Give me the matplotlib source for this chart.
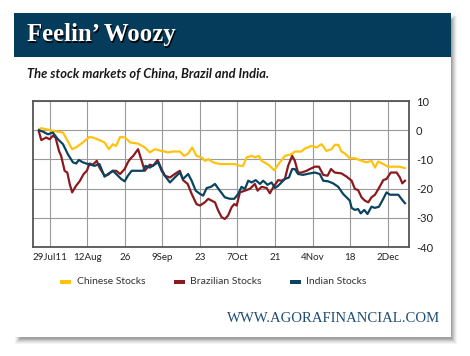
import numpy as np
import matplotlib
matplotlib.use("Agg")
import matplotlib.pyplot as plt
from matplotlib.patches import Rectangle

# day offsets from 29 Jul 2011, values in %
cn_day = [-4.1, -3.2, 1.1, 4.9, 8.3, 9.8, 12.3, 14.8, 16.0, 18.5, 20.4, 22.0, 23.5, 24.7, 26.2, 27.9,
          29.1, 29.9, 32.9, 35.4, 37.3, 39.2, 41.7, 44.1, 46.0, 48.5, 50.1, 51.6, 53.1, 54.7, 56.6,
          57.8, 59.1, 60.9, 63.4, 69.0, 70.9, 72.1, 73.4, 75.3, 76.5, 78.0, 79.0, 81.5, 83.7, 85.8,
          87.7, 90.2, 91.4, 93.9, 95.1, 97.6, 99.5, 101.4, 103.2, 105.1, 106.3, 107.6, 108.8, 110.1,
          111.9, 113.8, 116.3, 118.2, 120.0, 121.3, 122.5, 124.4, 126.2, 130.6, 132.5]
cn_val = [0.3, 0.7, -0.2, -0.8, -6.5, -5.9, -4.2, -2.3, -2.5, -3.4, -4.2, -6.5, -4.8, -5.4, -2.3, -2.5,
          -3.4, -4.2, -4.6, -5.9, -7.6, -6.5, -7.1, -7.6, -7.3, -7.3, -8.8, -8.0, -5.9, -8.8, -9.3,
          -10.5, -9.9, -11.0, -11.6, -11.6, -12.2, -12.2, -9.3, -8.8, -9.3, -8.8, -10.5, -11.8, -13.7, -11.0,
          -8.8, -8.2, -7.3, -7.3, -6.3, -5.4, -5.9, -4.8, -7.1, -6.5, -5.0, -5.0, -7.3, -8.0,
          -9.6, -9.6, -10.5, -11.0, -10.5, -12.8, -10.7, -11.6, -12.5, -12.5, -13.0]

br_day = [-4.1, -3.2, -1.4, -0.1, 1.1, 2.1, 3.4, 4.2, 5.5, 6.5, 7.4, 8.3, 9.8, 11.1, 12.6, 13.8, 14.8,
          16.0, 17.5, 18.5, 20.4, 21.6, 23.5, 24.7, 26.2, 27.9, 29.1, 29.9, 31.1, 32.9, 35.4, 37.3,
          38.5, 40.2, 41.4, 42.9, 44.8, 46.6, 48.5, 49.7, 51.4, 52.9, 54.7, 56.0, 57.8, 59.1, 60.3,
          61.6, 62.8, 64.1, 65.3, 66.5, 67.8, 68.8, 69.7, 70.9, 72.8, 74.6, 76.5, 77.5, 79.0, 80.9,
          82.1, 83.3, 85.2, 86.4, 87.7, 88.9, 90.4, 91.4, 92.6, 93.9, 95.8, 97.0, 98.9, 100.4, 102.0,
          103.6, 104.9, 106.3, 108.8, 110.7, 112.6, 113.8, 115.0, 116.3, 117.5, 118.8, 120.0, 121.3,
          122.8, 124.4, 125.6, 127.2, 129.4, 130.6, 131.5, 132.5]
br_val = [-0.5, -3.4, -2.5, -3.1, -1.9, -2.5, -7.1, -8.8, -13.9, -14.5, -18.4, -21.3, -19.0, -17.5, -15.0, -13.9, -11.4,
          -11.8, -10.5, -12.8, -15.6, -15.3, -13.9, -13.9, -15.0, -13.3, -11.0, -9.9, -8.8, -6.5, -13.9, -11.8,
          -12.2, -10.2, -12.8, -15.6, -16.2, -15.0, -13.9, -17.1, -18.4, -21.8, -25.3, -25.8, -24.7, -23.5, -24.1,
          -24.7, -27.5, -29.8, -30.4, -29.2, -26.4, -25.3, -25.8, -21.3, -20.7, -20.1, -18.4, -20.7, -19.4, -19.8,
          -21.6, -19.6, -17.1, -17.3, -16.7, -12.2, -8.8, -10.5, -14.5, -14.5, -13.9, -13.3, -12.5, -12.5, -15.3,
          -15.6, -13.3, -14.5, -14.8, -15.9, -17.3, -20.1, -20.5, -23.0, -24.1, -24.7, -23.0, -22.1,
          -19.8, -17.1, -16.7, -14.5, -14.5, -16.2, -18.2, -17.3]

in_day = [-4.1, -2.6, -0.7, 1.1, 3.0, 4.9, 6.7, 8.6, 9.8, 10.8, 12.3, 14.2, 16.7, 18.5, 20.4, 22.0, 23.5,
          25.4, 26.6, 27.9, 29.1, 30.5, 32.9, 34.8, 35.7, 37.3, 40.4, 41.7, 42.9, 44.8, 46.6, 48.5,
          49.7, 51.6, 52.9, 54.4, 56.0, 57.2, 58.5, 60.1, 61.6, 63.4, 65.3, 67.2, 68.8, 70.3, 71.5,
          72.8, 74.0, 75.3, 76.8, 78.4, 79.6, 81.2, 82.7, 84.0, 85.2, 86.4, 87.7, 89.2, 90.4, 91.4,
          92.6, 94.5, 97.0, 98.9, 100.7, 102.0, 103.8, 105.7, 107.6, 109.4, 110.7, 111.9, 112.6, 113.8,
          115.0, 116.0, 117.3, 118.5, 120.0, 121.3, 122.8, 124.4, 125.6, 126.9, 130.0, 131.5, 132.5]
in_val = [0.0, -0.5, -1.4, -0.8, -3.1, -4.8, -8.2, -11.0, -11.4, -10.2, -11.0, -11.6, -12.2, -11.6, -15.9, -14.8, -13.9,
          -15.6, -16.7, -17.5, -15.6, -13.9, -13.9, -13.9, -12.2, -12.8, -11.0, -13.9, -15.6, -17.9, -16.2, -14.5,
          -16.7, -15.0, -17.3, -20.7, -21.8, -22.4, -19.8, -19.4, -18.4, -20.7, -23.0, -23.5, -23.5, -21.8, -19.4,
          -20.1, -17.3, -17.9, -17.1, -18.4, -17.3, -18.7, -17.9, -19.8, -19.0, -17.9, -16.7, -16.2, -13.3, -13.3,
          -15.0, -15.3, -14.8, -14.5, -15.0, -17.3, -17.5, -18.2, -19.4, -21.8, -23.0, -24.1, -26.6, -27.3,
          -27.0, -28.5, -27.3, -28.7, -26.2, -26.6, -26.2, -23.5, -21.3, -22.1, -22.1, -23.9, -25.0]

tick_days = [0, 14, 28, 42, 56, 70, 84, 98, 112, 126]
tick_labels = ["29Jul11", "12Aug", "26", "9Sep", "23", "7Oct", "21", "4Nov", "18", "2Dec"]
y_ticks = [10, 0, -10, -20, -30, -40]

names = ["Chinese Stocks", "Brazilian Stocks", "Indian Stocks"]
colors = ["#FFC20E", "#8B1A1F", "#0B4461"]

W, H = 470, 356
fig = plt.figure(figsize=(W / 100, H / 100), dpi=100)
fig.patch.set_facecolor("white")


def px(x0, y0, x1, y1):
    # pixel box -> figure rect (left, bottom, width, height)
    return x0 / W, 1 - y1 / H, (x1 - x0) / W, (y1 - y0) / H


# drop shadow of the card
for i, a in enumerate([0.05, 0.06, 0.08, 0.10, 0.12, 0.14]):
    d = 7 - i
    l, b, w, h = px(14 + 7 - d + 1, 13 + 7 - d + 2, 451 + d - 1, 337 + d)
    fig.patches.append(Rectangle((l, b), w, h, transform=fig.transFigure,
                                 facecolor="#303030", alpha=a, edgecolor="none", zorder=0))
l, b, w, h = px(14, 13, 451, 337)
fig.patches.append(Rectangle((l, b), w, h, transform=fig.transFigure,
                             facecolor="white", edgecolor="none", zorder=1))
l, b, w, h = px(14, 13, 451, 57)
fig.patches.append(Rectangle((l, b), w, h, transform=fig.transFigure,
                             facecolor="#063C5B", edgecolor="none", zorder=2))

title = "Feelin\u2019 Woozy"
fig.text(28.2 / W, 1 - 36.2 / H, title, color="black", fontsize=17.8, fontweight="bold",
         family="Liberation Serif", va="center", zorder=3)
fig.text(27 / W, 1 - 35 / H, title, color="white", fontsize=17.8, fontweight="bold",
         family="Liberation Serif", va="center", zorder=4)
fig.text(27 / W, 1 - 74 / H, "The stock markets of China, Brazil and India.", color="#1a1a1a",
         fontsize=9.3, fontweight="bold", style="italic", family="Lato", va="center", zorder=4)

ax = fig.add_axes(px(33, 101, 409, 247), zorder=5)
for d, v, c in zip([cn_day, br_day, in_day], [cn_val, br_val, in_val], colors):
    ax.plot(d, v, color=c, lw=1.6, solid_joinstyle="round", zorder=3)

ax.set_xlim(-6.3, 134)
ax.set_ylim(-40, 10)
ax.set_xticks(tick_days)
ax.set_xticklabels(tick_labels, family="Lato", fontsize=7, color="#222222")
ax.set_yticks(y_ticks)
ax.set_yticklabels([str(t) for t in y_ticks], family="Lato", fontsize=8, color="#222222")
ax.yaxis.tick_right()
ax.tick_params(length=0, pad=5)
ax.tick_params(axis="x", pad=4)
ax.grid(True, color="#9a9a9a", lw=0.8)
ax.set_axisbelow(True)
for s in ax.spines.values():
    s.set_color("#555555")
    s.set_linewidth(1.3)

# legend
leg_x = [(60, 77), (174, 190), (290, 306)]
for (bx, tx), name, c in zip(leg_x, names, colors):
    l, b, w, h = px(bx, 280, bx + 10.5, 284)
    fig.patches.append(Rectangle((l, b), w, h, transform=fig.transFigure,
                                 facecolor=c, edgecolor="none", zorder=4))
    fig.text(tx / W, 1 - 282 / H, name, color="#333333", fontsize=7.5, family="Lato",
             va="center", zorder=4)

fig.text(440 / W, 1 - 319 / H, "WWW.AGORAFINANCIAL.COM", color="#1F4E72", fontsize=10.6,
         family="Liberation Serif", ha="right", va="center", zorder=4)

fig.savefig("out.png", dpi=100)
